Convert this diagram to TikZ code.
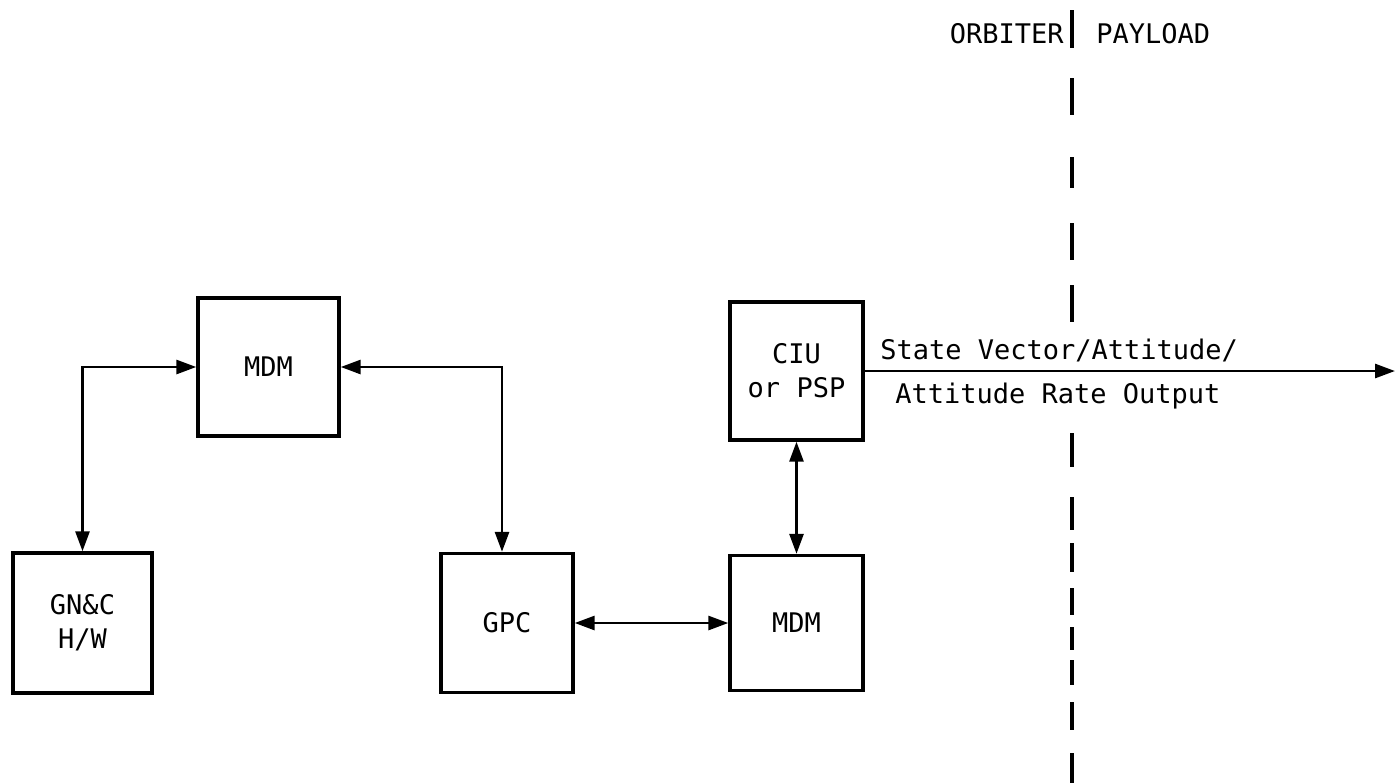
\documentclass[tikz,border=0pt]{standalone}
\usepackage{fontspec}
\setmonofont{DejaVu Sans Mono}
\usetikzlibrary{arrows.meta}

\begin{document}
\begin{tikzpicture}[x=0.5pt, y=-0.5pt]
  %
  \def\lw{1.4pt}
  %
  \tikzset{
    blk/.style={draw, line width=1.7pt, inner sep=0pt, align=center,
                font=\fontsize{13.5}{17}\selectfont\ttfamily},
    conn/.style={line width=\lw, {Triangle[length=10pt,width=7pt]}-{Triangle[length=10pt,width=7pt]}},
    outarr/.style={line width=\lw, -{Triangle[length=10pt,width=7pt]}},
    lbl/.style={font=\fontsize{13.5}{16}\selectfont\ttfamily, inner sep=0pt},
    bound/.style={line width=2.2pt},
  }
  %
  \useasboundingbox (0,0) rectangle (1397,783);
  %
  %%% BOXES %%%
  \node[blk, minimum width=70.5pt, minimum height=69pt] (mdmtop) at (268.5,367) {MDM};
  \node[blk, minimum width=69.5pt, minimum height=70pt] (gnc) at (82.5,623) {GN\&C\\H/W};
  \node[blk, minimum width=66pt, minimum height=69.5pt] (gpc) at (507,623) {GPC};
  \node[blk, minimum width=66.5pt, minimum height=67.5pt] (mdmbot) at (796.5,623) {MDM};
  \node[blk, minimum width=66.5pt, minimum height=69pt] (ciu) at (796.5,371) {CIU\\or PSP};
  %
  %%% CONNECTORS %%%
  \draw[conn] (gnc.north) |- (mdmtop.west);
  \draw[conn] (mdmtop.east) -| ([xshift=-2.5pt]gpc.north);
  \draw[conn] (gpc.east) -- (mdmbot.west);
  \draw[conn] (ciu.south) -- (mdmbot.north);
  %
  % Output to payload
  \coordinate (out) at (1395,371);
  \draw[outarr] (ciu.east) -- (out);
  \node[lbl, anchor=west] (svlbl) at (880,350) {State Vector/Attitude/};
  \node[lbl, anchor=west] (ratelbl) at (895,396) {Attitude Rate Output};
  %
  %%% ORBITER / PAYLOAD BOUNDARY %%%
  \node[lbl, anchor=east] (orbiter) at (1064,34) {ORBITER};
  \node[lbl, anchor=west] (payload) at (1096,34) {PAYLOAD};
  \foreach \ya/\yb in {10/48, 78/115, 157/188, 223/260, 285/322, 433/467,
                       497/530, 543/572, 588/615, 627/650, 660/685, 702/730, 753/783} {
    \draw[bound] (1072,\ya) -- (1072,\yb);
  }
\end{tikzpicture}
\end{document}
